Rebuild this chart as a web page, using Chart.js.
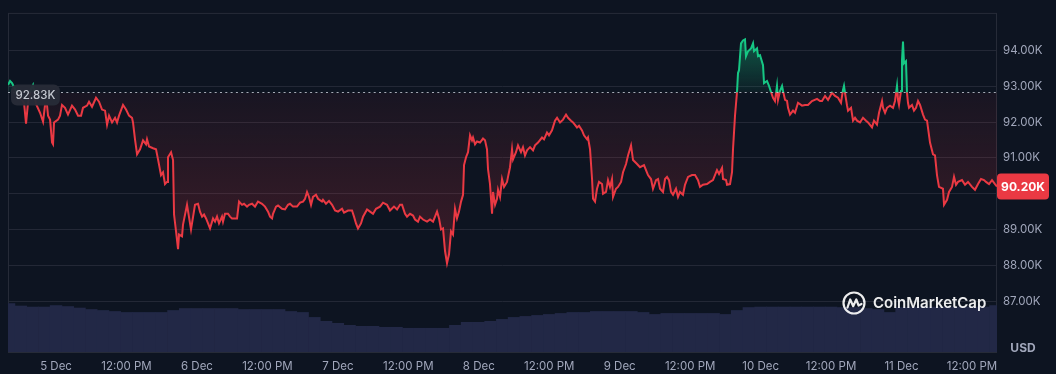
<!DOCTYPE html>
<html><head><meta charset="utf-8">
<script src="https://cdn.jsdelivr.net/npm/chart.js@4.4.1/dist/chart.umd.min.js"></script>
<style>html,body{margin:0;padding:0;background:#0d1421;}canvas{display:block}</style>
</head><body>
<canvas id="c" width="1056" height="374"></canvas>
<script>
// ---- DATA ----
// hours since 5 Dec 00:00
const priceHours = [
-8.17,-7.83,-7.49,-6.81,-6.13,-5.45,-5.11,-4.77,-4.26,-3.92,-3.41,-2.72,-2.21,-1.87,-1.53,-1.36,-1.02,-0.68,-0.51,-0.34,
0.34,0.68,1.02,1.53,2.04,2.72,3.24,3.75,4.26,4.60,5.28,5.62,6.13,6.81,7.32,7.83,8.35,8.69,9.03,9.54,
10.05,10.39,10.73,11.41,11.92,12.43,12.94,13.11,13.45,13.80,14.31,14.82,15.33,15.50,15.84,16.52,17.03,17.37,17.88,18.22,
18.56,18.90,19.07,19.59,19.93,20.10,20.44,20.78,20.95,21.46,21.63,22.31,22.99,23.67,24.18,
24.52,24.87,25.21,25.55,25.89,26.23,26.74,27.08,27.42,27.76,
28.27,28.44,28.78,29.29,29.63,29.97,30.49,30.83,31.17,31.68,
32.02,32.53,32.87,33.38,33.89,34.40,35.08,35.59,36.11,36.45,
36.79,36.96,37.47,37.81,38.49,39.00,39.51,39.85,40.36,41.04,
41.56,42.07,42.41,42.75,43.09,43.43,43.77,44.28,44.62,45.30,
45.47,45.98,46.49,47.01,47.52,48.03,48.71,49.05,49.73,50.41,
50.75,51.09,51.43,51.94,52.29,52.97,53.48,53.99,54.50,55.18,
55.69,56.37,56.88,57.56,58.08,58.59,58.93,59.44,59.78,60.29,
60.80,61.14,61.65,61.99,62.50,63.19,63.70,64.21,64.89,65.23,
65.57,65.91,66.25,66.59,66.93,67.27,67.61,67.95,68.29,68.63,
68.98,69.32,
69.49,69.83,70.17,70.51,70.85,71.02,71.36,71.70,72.21,72.72,
73.06,73.40,73.57,73.91,74.26,74.43,74.77,75.11,75.28,75.62,
75.96,76.30,76.81,76.98,77.32,77.66,77.83,78.34,78.68,79.19,
79.53,79.87,80.22,80.73,81.24,81.58,82.09,82.77,83.11,83.62,
83.96,84.47,84.98,85.33,85.84,86.35,86.86,87.20,87.71,88.05,
88.73,89.07,89.58,89.92,90.43,90.60,90.95,91.29,91.46,91.80,
92.14,92.48,92.99,93.16,93.67,94.01,94.35,94.69,94.86,95.37,
95.71,96.23,96.57,97.08,97.42,97.93,98.27,98.95,99.46,
100.14,100.48,100.82,101.33,101.67,102.19,102.53,102.87,103.38,103.72,
104.06,104.40,104.74,105.08,105.59,105.93,106.27,106.78,107.12,107.64,
108.32,108.83,109.34,109.68,110.19,110.87,111.38,111.89,112.57,112.92,
113.43,113.60,114.11,114.28,114.79,115.13,115.30,115.64,115.98,116.15,
116.32,116.66,117.00,117.34,117.51,117.86,118.37,118.71,118.88,119.39,
119.56,119.90,120.41,120.58,121.09,121.43,121.77,122.11,122.45,122.79,
122.96,123.30,123.65,123.82,124.16,124.50,124.67,125.01,125.52,125.86,
126.37,127.05,127.56,128.07,128.75,129.61,130.12,
130.46,130.97,131.48,132.16,132.67,133.18,133.69,134.03,134.20,134.37,
134.72,134.89,135.40,135.74,136.08,136.42,136.93,137.44,137.95,138.29,
138.97,139.31,139.82,140.17,140.68,140.85,141.19,141.53,142.04,142.55,
142.89,143.23,143.40,143.57,143.91,144.08,144.25,144.42,144.76,144.93,
145.10,145.27,145.78,146.12,146.47,146.81,147.15,147.66,148.00,148.34,
148.85,149.36,149.70,150.04,150.38,151.06,151.24,151.75,152.09,152.60,
152.94,153.28,153.62,154.30,154.81,155.32,156.00,156.51,157.03,157.54,
158.05,158.39,158.90,159.41,159.92,160.26
];
const priceUSD = [
93040,93150,93090,92870,92680,92540,91960,92540,92930,93040,92510,92260,92010,92480,92460,92180,92070,91430,91380,91990,
92070,92180,92480,92400,92210,92460,92350,92180,92180,92400,92460,92570,92430,92680,92570,92350,92320,91930,92180,91990,
92120,91990,92180,92480,92350,92180,92120,91990,91520,91100,91240,91490,91380,91520,91320,91270,91240,90960,90520,90600,
90270,90330,91020,91160,90940,89420,88950,88450,88860,88810,89140,89690,89000,89690,89720,
89500,89360,89420,89310,89170,89030,89310,89220,89360,89170,
89360,89220,89440,89440,89360,89310,89310,89310,89780,89690,
89720,89640,89690,89720,89640,89780,89720,89640,89500,89360,
89310,89440,89640,89670,89580,89560,89690,89720,89640,89640,
89750,89780,89860,90050,89910,89690,89910,89970,89860,89780,
89830,89720,89800,89690,89530,89500,89580,89470,89530,89530,
89360,89170,89030,89170,89360,89560,89500,89440,89580,89640,
89750,89690,89530,89640,89560,89690,89690,89440,89360,89440,
89390,89280,89220,89360,89280,89220,89280,89220,89500,89310,
89000,89030,88400,88060,88310,88950,88860,89580,89310,89500,
89780,89970,
90800,91020,91160,91630,91490,91570,91380,91460,91430,91540,
91490,91240,90690,90270,89440,90050,89690,89860,90110,89910,
90410,90190,90330,90470,90740,91240,90960,91160,91350,91160,
91300,91070,91210,91300,91210,91350,91430,91570,91520,91710,
91630,91770,92040,92120,91990,92070,92210,92120,92040,91990,
91850,91900,91770,91630,91520,91570,91240,90410,89860,89780,
90140,90330,90270,90000,90050,90380,90190,90410,89910,90140,
90190,90330,90600,90830,91070,91350,90940,90830,90740,
90800,90660,90520,90410,90140,90380,90410,90140,90050,90410,
90470,90380,90050,89970,90140,89910,90050,89970,90250,90470,
90520,90520,90380,90190,90250,90270,90330,90380,90660,90550,
90720,90410,90380,90250,90270,90600,91240,92180,92840,93370,
93450,94200,94280,94310,93840,93980,94060,94200,93980,94060,
93840,93870,93590,93090,93150,93010,92840,92680,92590,93010,
92620,92870,93010,92870,92620,92590,92400,92210,92320,92260,
92540,92460,92480,92480,92590,92650,92590,
92590,92730,92620,92820,92730,92680,92540,92900,93010,92820,
92460,92320,92400,92040,92120,92040,91990,92120,92040,91990,
91850,92040,91930,92260,92590,92400,92260,92400,92460,92400,
92590,93010,92620,92480,92870,93730,94250,93640,93700,92820,
92540,92400,92480,92320,92400,92590,92480,92210,92070,92040,
91430,91100,91070,90520,90190,90140,89690,89830,90050,90190,
90470,90250,90330,90380,90250,90330,90190,90110,90270,90410,
90380,90330,90270,90380,90270,90200
];
const volumeHours = [
-8,-6,-4,-2,0,2,4,6,8,10,12,14,16,18,20,22,24,26,28,30,
32,34,36,38,40,42,44,46,48,50,52,54,56,58,60,62,64,66,68,70,
72,74,76,78,80,82,84,86,88,90,92,94,96,98,100,102,104,106,108,110,
112,114,116,118,120,122,124,126,128,130,132,134,136,138,140,142,144,146,148,150,
152,154,156,158,160
];
// 24h volume, billions USD
const volumeB = [
98,93,91,91,94,92,89,86,84,82,80,80,80,80,84,88,88,88,88,88,
86,86,86,86,82,80,70,62,58,54,52,52,50,50,48,48,48,48,54,60,
60,62,66,70,72,74,76,78,80,80,82,82,82,82,80,76,78,78,78,78,
78,76,84,90,91,91,91,91,91,91,91,90,90,88,86,80,90,91,91,91,
91,91,91,91,94
];
const baselinePrice = 92830;
const lastPrice = 90200;
const priceTicks = [87000,88000,89000,90000,91000,92000,93000,94000];
const timeTicks = [0,12,24,36,48,60,72,84,96,108,120,132,144,156];
const timeTickLabels = ['5 Dec','12:00 PM','6 Dec','12:00 PM','7 Dec','12:00 PM','8 Dec','12:00 PM','9 Dec','12:00 PM','10 Dec','12:00 PM','11 Dec','12:00 PM'];

// ---- STYLE ----
Chart.defaults.font.family = "Inter, 'Noto Sans', sans-serif";
const UP = '#16c784', DOWN = '#ea3943';
const GRID = '#232836', FRAME = '#262b38', TXT = '#a1a7bb';

function lineGradient(chart){
  const a = chart.chartArea; if (!a) return DOWN;
  const by = chart.scales.y.getPixelForValue(baselinePrice);
  const t = Math.max(0, Math.min(1, (by - a.top) / (a.bottom - a.top)));
  const g = chart.ctx.createLinearGradient(0, a.top, 0, a.bottom);
  g.addColorStop(0, UP); g.addColorStop(t, UP);
  g.addColorStop(Math.min(1, t + 0.0005), DOWN); g.addColorStop(1, DOWN);
  return g;
}
function fillGradient(chart){
  const a = chart.chartArea; if (!a) return 'transparent';
  const y = chart.scales.y;
  const f = v => Math.max(0, Math.min(1, (y.getPixelForValue(v) - a.top) / (a.bottom - a.top)));
  const g = chart.ctx.createLinearGradient(0, a.top, 0, a.bottom);
  g.addColorStop(0, 'rgba(22,199,132,0.40)');
  g.addColorStop(f(94300), 'rgba(22,199,132,0.38)');
  g.addColorStop(f(baselinePrice), 'rgba(22,199,132,0.06)');
  g.addColorStop(Math.min(1, f(baselinePrice) + 0.0005), 'rgba(234,57,67,0.05)');
  g.addColorStop(f(88000), 'rgba(234,57,67,0.22)');
  g.addColorStop(1, 'rgba(234,57,67,0.22)');
  return g;
}

const overlay = {
  id: 'overlay',
  beforeDatasetsDraw(chart){
    const {ctx, chartArea: a} = chart;
    ctx.save();
    ctx.strokeStyle = FRAME; ctx.lineWidth = 1;
    ctx.strokeRect(a.left + 0.5, a.top + 0.5, a.right - a.left - 1, a.bottom - a.top);
    ctx.restore();
  },
  afterDatasetsDraw(chart){
    const {ctx, chartArea: a, scales: {y}} = chart;
    const by = Math.round(y.getPixelForValue(baselinePrice)) + 0.5;
    ctx.save();
    // dotted baseline
    ctx.setLineDash([2, 3.3]);
    ctx.strokeStyle = 'rgba(205,210,220,0.8)';
    ctx.lineWidth = 1.2;
    ctx.beginPath(); ctx.moveTo(a.left, by); ctx.lineTo(a.right, by); ctx.stroke();
    ctx.setLineDash([]);
    // baseline label
    const txt = (baselinePrice / 1000).toFixed(2) + 'K';
    ctx.font = '500 11.5px Inter';
    const w = ctx.measureText(txt).width + 9;
    const bx = a.left + 3, bh = 21, bt = by - 8;
    ctx.fillStyle = 'rgba(39,43,55,0.97)';
    ctx.beginPath(); ctx.roundRect(bx, bt, w, bh, 6); ctx.fill();
    ctx.fillStyle = '#c4c8d0'; ctx.textAlign = 'center'; ctx.textBaseline = 'middle';
    ctx.fillText(txt, bx + w / 2, bt + bh / 2 + 0.5);
    // watermark
    const cx = a.right - 143, cy = a.bottom - 49;
    ctx.strokeStyle = 'rgba(255,255,255,0.92)'; ctx.lineWidth = 2.2; ctx.lineJoin = 'round'; ctx.lineCap = 'round';
    ctx.beginPath(); ctx.arc(cx, cy, 10.5, 0, Math.PI * 2); ctx.stroke();
    ctx.beginPath();
    ctx.moveTo(cx - 6.5, cy + 4.5);
    ctx.lineTo(cx - 3.8, cy - 3.5);
    ctx.lineTo(cx - 0.8, cy + 3.2);
    ctx.lineTo(cx + 2.3, cy - 3.5);
    ctx.lineTo(cx + 4.6, cy + 2.5);
    ctx.lineTo(cx + 7.5, cy + 1);
    ctx.stroke();
    ctx.fillStyle = 'rgba(255,255,255,0.92)';
    ctx.font = '600 15px Inter'; ctx.textAlign = 'left'; ctx.textBaseline = 'middle';
    ctx.fillText('CoinMarketCap', cx + 19, cy + 0.5);
    ctx.restore();
  },
  afterDraw(chart){
    const {ctx, chartArea: a, scales: {y}} = chart;
    const ly = y.getPixelForValue(lastPrice);
    ctx.save();
    ctx.fillStyle = lastPrice >= baselinePrice ? UP : DOWN;
    ctx.beginPath(); ctx.roundRect(a.right, ly - 13, 52, 26, 4); ctx.fill();
    ctx.fillStyle = '#ffffff'; ctx.font = 'bold 12px Inter';
    ctx.textAlign = 'center'; ctx.textBaseline = 'middle';
    ctx.fillText((lastPrice / 1000).toFixed(2) + 'K', a.right + 26, ly + 0.5);
    ctx.fillStyle = TXT; ctx.font = 'bold 12px Inter';
    ctx.fillText('USD', a.right + 26, a.bottom - 4);
    ctx.restore();
  }
};

new Chart(document.getElementById('c'), {
  type: 'line',
  data: {
    datasets: [
      {
        label: 'Price',
        data: priceHours.map((h, i) => ({x: h, y: priceUSD[i]})),
        yAxisID: 'y',
        order: 1,
        borderWidth: 2,
        pointRadius: 0,
        tension: 0,
        borderColor: c => lineGradient(c.chart),
        backgroundColor: c => fillGradient(c.chart),
        fill: {target: {value: baselinePrice}}
      },
      {
        type: 'bar',
        label: 'Volume',
        data: volumeHours.map((h, i) => ({x: h, y: volumeB[i]})),
        yAxisID: 'yv',
        order: 2,
        backgroundColor: '#222846',
        borderWidth: 0,
        barPercentage: 1,
        categoryPercentage: 1,
        clip: 0
      }
    ]
  },
  options: {
    responsive: false,
    animation: false,
    layout: {padding: {left: 8, top: 9, right: 0, bottom: 0}},
    plugins: {legend: {display: false}, tooltip: {enabled: false}},
    scales: {
      x: {
        type: 'linear', min: -8.18, max: 160.26, offset: false,
        grid: {display: false, drawTicks: false},
        border: {display: false},
        afterBuildTicks: s => { s.ticks = timeTicks.map(v => ({value: v})); },
        afterFit: s => { s.height = 22; },
        ticks: {
          autoSkip: false, maxRotation: 0, padding: 8,
          color: TXT, font: {size: 11.5},
          callback: (v, i) => timeTickLabels[i]
        }
      },
      y: {
        position: 'right', min: 85580, max: 95050,
        grid: {color: GRID, drawTicks: false},
        border: {display: false},
        afterBuildTicks: s => { s.ticks = priceTicks.map(v => ({value: v})); },
        afterFit: s => { s.width = 59; },
        ticks: {
          padding: 6, color: TXT, font: {size: 11.5},
          callback: v => (v / 1000).toFixed(2) + 'K'
        }
      },
      yv: {
        display: false, min: 0, max: 686
      }
    }
  },
  plugins: [overlay]
});
</script>
</body></html>
